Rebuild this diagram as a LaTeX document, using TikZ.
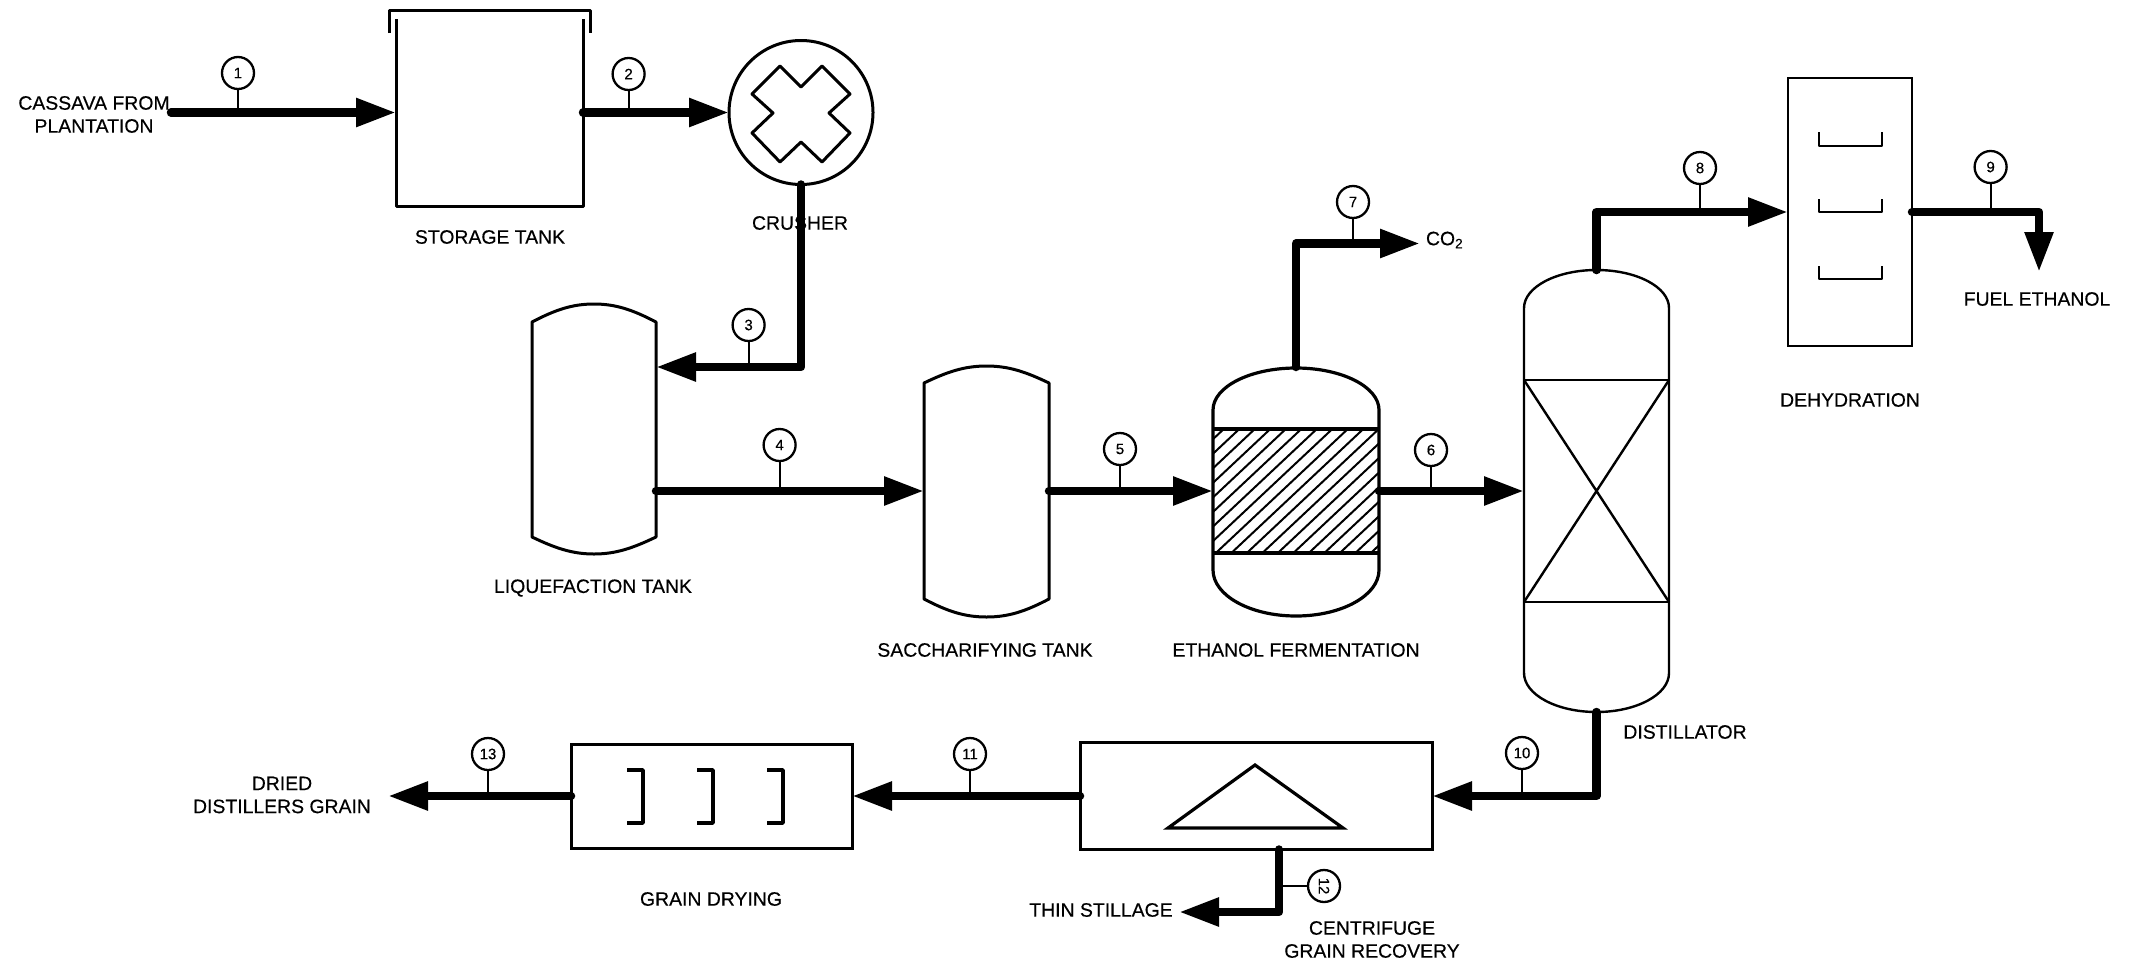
\documentclass[tikz,border=0pt]{standalone}
\usepackage{fontspec}
\setmainfont{Liberation Sans}
\newfontfamily\labfont[FakeBold=0.4]{Liberation Sans}
\usetikzlibrary{arrows.meta}
\tikzset{
  pipe/.style={line width=8.5pt,line cap=round,line join=round,-{Triangle[length=40pt,width=27pt]}},
  stem/.style={line width=2pt},
  bubble/.style={circle,draw,line width=2.3pt,minimum size=32pt,inner sep=0pt,fill=white,font=\labfont\fontsize{15pt}{15pt}\selectfont},
  lab/.style={inner sep=0pt,outer sep=0pt,align=center,font=\labfont\fontsize{19.4pt}{23pt}\selectfont},
  ves/.style={line width=3pt,line join=round},
  thinv/.style={line width=2.4pt,line join=round},
  anchorbox/.style={rectangle,draw=none,inner sep=0pt,outer sep=0pt,minimum width=#1},
  solidbox/.style={rectangle,draw,line width=3pt,inner sep=0pt,outer sep=0pt,minimum width=#1},
  hatchline/.style={line width=2pt}
}
\begin{document}
\begin{tikzpicture}[x=1pt,y=-1pt]
\useasboundingbox (0,0) rectangle (2140,964);

% labels
\node[lab] (lcass) at (94,114.5) {CASSAVA FROM\\PLANTATION};
\node[lab] (lstor) at (490,237) {STORAGE TANK};
\node[lab] (lcrush) at (800,223) {CRUSHER};
\node[lab] (lliq) at (593,588) {LIQUEFACTION TANK};
\node[lab] (lsac) at (985,650) {SACCHARIFYING TANK};
\node[lab] (lfer) at (1296,650) {ETHANOL FERMENTATION};
\node[lab,anchor=west] (co2) at (1426,240) {CO\textsubscript{2}};
\node[lab] (lfuel) at (2037,299) {FUEL ETHANOL};
\node[lab] (ldeh) at (1850,400) {DEHYDRATION};
\node[lab] (ldist) at (1685,732) {DISTILLATOR};
\node[lab] (ldried) at (282,795) {DRIED\\DISTILLERS GRAIN};
\node[lab] (lgrain) at (711,899) {GRAIN DRYING};
\node[lab] (lthin) at (1101,910) {THIN STILLAGE};
\node[lab] (lcent) at (1372,939.5) {CENTRIFUGE\\GRAIN RECOVERY};

% equipment anchors and boxes
\node[anchorbox=187pt,minimum height=187pt] (stor) at (489.5,112.5) {};
\node[circle,draw,line width=3pt,minimum size=144pt,inner sep=0pt,outer sep=0pt] (crush) at (801,112.5) {};
\node[anchorbox=124pt,minimum height=250pt] (liq) at (594,429) {};
\node[anchorbox=125pt,minimum height=251pt] (sac) at (986.5,491) {};
\node[anchorbox=166pt,minimum height=248pt] (ferm) at (1296,491) {};
\node[anchorbox=145pt,minimum height=442pt] (dist) at (1596.5,491) {};
\node[solidbox=124pt,minimum height=268pt,line width=2.4pt] (dehy) at (1850,212) {};
\node[solidbox=352pt,minimum height=107pt] (cent) at (1256,796) {};
\node[solidbox=281pt,minimum height=104pt] (dry) at (711.5,796) {};

% storage tank
\draw[ves] (396,19) -- (396,206) -- (583,206) -- (583,19);
\draw[ves] (389,33) -- (389,10) -- (590,10) -- (590,33);

% crusher cross
\draw[ves] (780,66) -- (801,87) -- (822,66) -- (850,94) -- (829,113) -- (850,133) -- (822,162) -- (801,142) -- (780,162) -- (752,133) -- (773,113) -- (752,94) -- cycle;

% liquefaction tank
\draw[ves] (532,322) .. controls (555,310) and (572,304) .. (594,304) .. controls (616,304) and (633,310) .. (656,322) -- (656,537) .. controls (633,548) and (616,554) .. (594,554) .. controls (572,554) and (555,548) .. (532,537) -- cycle;

% saccharifying tank
\draw[ves] (924,383) .. controls (947,372) and (964,366) .. (986.5,366) .. controls (1009,366) and (1026,372) .. (1049,383) -- (1049,599) .. controls (1026,611) and (1009,617) .. (986.5,617) .. controls (964,617) and (947,611) .. (924,599) -- cycle;

% fermenter
\draw[ves,line width=3.2pt] (1213,410) arc[start angle=180,end angle=0,x radius=83pt,y radius=42pt] -- (1379,570) arc[start angle=0,end angle=-180,x radius=83pt,y radius=46pt] -- cycle;
\begin{scope}
\clip (1213,429) rectangle (1379,553);
\foreach \k in {-1,...,18}{
  \pgfmathsetmacro{\xtop}{1239.3+15.5*\k}
  \pgfmathsetmacro{\xbot}{\xtop-132}
  \draw[hatchline] (\xtop,429) -- (\xbot,553);
}
\end{scope}
\draw[line width=3.6pt] (1213,429) -- (1379,429);
\draw[line width=3.6pt] (1213,553) -- (1379,553);

% distillator
\draw[thinv] (1524,308) arc[start angle=180,end angle=0,x radius=72.5pt,y radius=38pt] -- (1669,673) arc[start angle=0,end angle=-180,x radius=72.5pt,y radius=39pt] -- cycle;
\draw[thinv] (1524,380) -- (1669,380) (1524,602) -- (1669,602);
\draw[thinv] (1524,380) -- (1669,602) (1669,380) -- (1524,602);

% dehydration trays
\draw[thinv] (1819,132) -- (1819,146) -- (1882,146) -- (1882,132);
\draw[thinv] (1819,199) -- (1819,212) -- (1882,212) -- (1882,199);
\draw[thinv] (1819,266) -- (1819,279) -- (1882,279) -- (1882,266);

% grain drying brackets
\draw[ves,line width=3.6pt] (627,770) -- (643,770) -- (643,823) -- (627,823);
\draw[ves,line width=3.6pt] (697,770) -- (713,770) -- (713,823) -- (697,823);
\draw[ves,line width=3.6pt] (767,770) -- (783,770) -- (783,823) -- (767,823);

% centrifuge triangle
\draw[ves,line width=3.2pt,line join=miter] (1255,765) -- (1343,828) -- (1168,828) -- cycle;

% free ends and junctions
\coordinate (in1) at (171,112.5);
\coordinate (j3) at (801,367);
\coordinate (j4) at (0,491);
\coordinate (t7) at (1420,243.5);
\coordinate (t9) at (2039,272);
\coordinate (t13) at (388,796);
\coordinate (j12) at (1279,912);
\coordinate (t12) at (1179,912);

% connectors
\draw[pipe] (in1) -- (stor.west);
\draw[pipe] (stor.east) -- (crush.west);
\draw[pipe] (crush.south) -- (j3) -- (liq.east |- j3);
\draw[pipe] (liq.east |- j4) -- (sac.west);
\draw[pipe] (sac.east) -- (ferm.west);
\draw[pipe] (ferm.east) -- (dist.west);
\draw[pipe] (ferm.north) |- (t7);
\draw[pipe] (dist.north) |- (dehy.west);
\draw[pipe] (dehy.east) -| (t9);
\draw[pipe] (dist.south) |- (cent.east);
\draw[pipe] (cent.west) -- (dry.east);
\draw[pipe] (dry.west) -- (t13);
\draw[pipe] (cent.south -| j12) -- (j12) -- (t12);

% balloons
\node[bubble] (b1) at (238,73) {1};
\node[bubble] (b2) at (628.6,74) {2};
\node[bubble] (b3) at (748.6,325) {3};
\node[bubble] (b4) at (779.6,445) {4};
\node[bubble] (b5) at (1120,449) {5};
\node[bubble] (b6) at (1431,450) {6};
\node[bubble] (b7) at (1353,202) {7};
\node[bubble] (b8) at (1700,168) {8};
\node[bubble] (b9) at (1990.6,167) {9};
\node[bubble] (b10) at (1522,753) {10};
\node[bubble] (b11) at (970,754) {11};
\node[bubble,rotate=-90] (b12) at (1324,886) {12};
\node[bubble] (b13) at (488,754) {13};

\draw[stem] (b1.south) -- (b1.south |- in1);
\draw[stem] (b2.south) -- (b2.south |- stor.east);
\draw[stem] (b3.south) -- (b3.south |- j3);
\draw[stem] (b4.south) -- (b4.south |- j4);
\draw[stem] (b5.south) -- (b5.south |- sac.east);
\draw[stem] (b6.south) -- (b6.south |- ferm.east);
\draw[stem] (b7.south) -- (b7.south |- t7);
\draw[stem] (b8.south) -- (b8.south |- dehy.west);
\draw[stem] (b9.south) -- (b9.south |- dehy.east);
\draw[stem] (b10.south) -- (b10.south |- cent.east);
\draw[stem] (b11.south) -- (b11.south |- cent.west);
\draw[stem] (b12.south) -- (b12.south -| j12);
\draw[stem] (b13.south) -- (b13.south |- dry.west);
\end{tikzpicture}
\end{document}
